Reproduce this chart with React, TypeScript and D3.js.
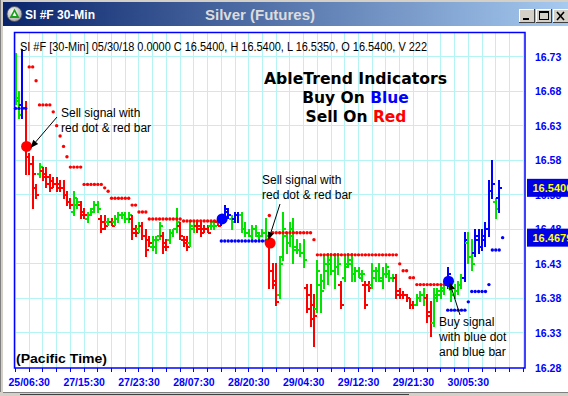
import React from 'react';
import * as d3 from 'd3';

// ---- data ----
const highs = [
  16.735,16.680,16.740,16.665,16.590,16.585,16.545,16.575,16.570,16.570,
  16.560,16.555,16.555,16.550,16.550,16.535,16.525,16.535,16.525,16.520,
  16.510,16.505,16.510,16.520,16.520,16.500,16.500,16.495,16.495,16.500,
  16.505,16.505,16.505,16.505,16.500,16.485,16.490,16.490,16.480,16.470,
  16.470,16.470,16.490,16.475,16.465,16.480,16.480,16.510,16.490,16.470,
  16.470,16.490,16.490,16.490,16.490,16.485,16.485,16.490,16.490,16.490,
  16.500,16.515,16.510,16.500,16.505,16.505,16.505,16.490,16.480,16.485,
  16.485,16.475,16.480,16.495,16.470,16.430,16.430,16.440,16.505,16.475,
  16.490,16.495,16.465,16.460,16.465,16.400,16.400,16.385,16.435,16.415,
  16.440,16.445,16.445,16.445,16.445,16.405,16.440,16.445,16.445,16.425,
  16.425,16.420,16.405,16.405,16.430,16.425,16.430,16.425,16.430,16.420,
  16.415,16.415,16.395,16.390,16.385,16.380,16.375,16.385,16.390,16.395,
  16.385,16.375,16.395,16.395,16.400,16.405,16.425,16.400,16.400,16.405,
  16.415,16.475,16.475,16.465,16.480,16.480,16.480,16.490,16.550,16.580,
  16.525,16.550,
];
const lows = [
  16.660,16.640,16.640,16.560,16.560,16.510,16.525,16.555,16.550,16.540,
  16.535,16.540,16.535,16.535,16.525,16.515,16.510,16.500,16.510,16.495,
  16.495,16.490,16.500,16.505,16.505,16.475,16.480,16.485,16.485,16.485,
  16.490,16.495,16.490,16.490,16.465,16.470,16.475,16.465,16.440,16.455,
  16.450,16.445,16.465,16.445,16.450,16.460,16.470,16.475,16.465,16.455,
  16.450,16.455,16.475,16.475,16.470,16.475,16.475,16.480,16.480,16.485,
  16.485,16.490,16.495,16.480,16.490,16.490,16.475,16.470,16.470,16.465,
  16.470,16.465,16.470,16.465,16.395,16.395,16.370,16.380,16.435,16.445,
  16.455,16.430,16.445,16.440,16.425,16.360,16.340,16.310,16.360,16.360,
  16.395,16.400,16.415,16.395,16.415,16.365,16.405,16.425,16.405,16.405,
  16.410,16.405,16.365,16.390,16.395,16.405,16.405,16.395,16.410,16.405,
  16.405,16.380,16.380,16.380,16.375,16.365,16.365,16.370,16.375,16.370,
  16.345,16.325,16.340,16.375,16.380,16.385,16.395,16.375,16.380,16.385,
  16.395,16.405,16.430,16.420,16.440,16.445,16.450,16.455,16.470,16.525,
  16.495,16.505,
];
const opens = [
  16.680,16.665,16.660,16.655,16.585,16.575,16.540,16.560,16.565,16.560,
  16.555,16.550,16.545,16.545,16.540,16.530,16.520,16.505,16.515,16.515,
  16.505,16.495,16.500,16.510,16.515,16.495,16.490,16.490,16.490,16.490,
  16.495,16.500,16.500,16.495,16.495,16.480,16.480,16.485,16.470,16.465,
  16.455,16.455,16.470,16.470,16.460,16.465,16.475,16.480,16.485,16.465,
  16.465,16.460,16.480,16.485,16.485,16.480,16.480,16.485,16.485,16.490,
  16.490,16.495,16.505,16.495,16.495,16.500,16.500,16.480,16.475,16.470,
  16.480,16.470,16.470,16.475,16.465,16.420,16.405,16.385,16.440,16.470,
  16.460,16.470,16.455,16.450,16.445,16.395,16.385,16.370,16.365,16.400,
  16.405,16.420,16.430,16.420,16.425,16.400,16.410,16.430,16.430,16.415,
  16.420,16.410,16.400,16.400,16.400,16.410,16.420,16.405,16.415,16.415,
  16.410,16.410,16.390,16.385,16.385,16.380,16.370,16.370,16.380,16.385,
  16.380,16.360,16.345,16.380,16.385,16.390,16.400,16.395,16.385,16.390,
  16.400,16.410,16.460,16.440,16.445,16.465,16.455,16.465,16.480,16.535,
  16.520,16.525,
];
const closes = [
  16.670,16.645,16.655,16.600,16.575,16.560,16.530,16.570,16.555,16.545,
  16.540,16.545,16.540,16.540,16.530,16.520,16.515,16.525,16.520,16.500,
  16.500,16.500,16.505,16.515,16.510,16.480,16.485,16.490,16.485,16.495,
  16.500,16.500,16.495,16.500,16.475,16.475,16.485,16.470,16.450,16.460,
  16.465,16.465,16.485,16.455,16.455,16.475,16.480,16.490,16.470,16.460,
  16.455,16.485,16.485,16.480,16.475,16.480,16.475,16.490,16.485,16.485,
  16.495,16.510,16.500,16.490,16.500,16.500,16.480,16.475,16.470,16.480,
  16.475,16.470,16.475,16.470,16.420,16.400,16.375,16.430,16.480,16.460,
  16.480,16.450,16.450,16.445,16.435,16.365,16.350,16.355,16.420,16.390,
  16.430,16.435,16.420,16.425,16.430,16.370,16.425,16.435,16.415,16.420,
  16.415,16.415,16.370,16.395,16.420,16.420,16.410,16.415,16.425,16.410,
  16.410,16.385,16.385,16.385,16.380,16.370,16.370,16.380,16.385,16.380,
  16.355,16.345,16.385,16.390,16.395,16.400,16.415,16.385,16.390,16.400,
  16.410,16.465,16.440,16.430,16.470,16.455,16.470,16.480,16.535,16.545,
  16.510,16.540,
];
// bar colour: g = neutral (green), r = down (red), b = up (blue)
const barTrend =
  'ggbrrrrgrr' + 'rrrrrrrggr' + 'rggggrrgrg' + 'ggggrrgrrr' + 'gggrrgggrr' +
  'rggrrrrggr' + 'bbbgbbgggg' + 'ggggrrrggg' + 'gggggrrrgg' + 'gggggrgggg' +
  'ggrrgggggg' + 'grrrrrrggg' + 'rrggggbggg' + 'gbggbbbbbbgb';

// AbleTrend stop dots (one per bar, plus the next-bar stop)
const stops = [
  16.655,16.655,16.655,16.655,16.715,16.715,16.695,16.660,16.660,16.660,
  16.660,16.650,16.630,16.615,16.600,16.585,16.570,16.570,16.570,16.570,
  16.545,16.545,16.545,16.545,16.545,16.545,16.540,16.535,16.525,16.525,
  16.525,16.525,16.525,16.525,16.515,16.515,16.505,16.505,16.505,16.495,
  16.495,16.495,16.495,16.495,16.495,16.495,16.495,16.495,16.495,16.492,
  16.492,16.492,16.492,16.492,16.492,16.492,16.492,16.492,16.492,16.492,
  16.463,16.463,16.463,16.463,16.463,16.463,16.463,16.463,16.463,16.463,
  16.463,16.463,16.463,16.463,16.500,16.475,16.475,16.475,16.475,16.475,
  16.475,16.475,16.475,16.475,16.475,16.475,16.475,16.465,16.443,16.443,
  16.443,16.443,16.443,16.443,16.443,16.443,16.443,16.443,16.443,16.443,
  16.443,16.443,16.443,16.443,16.443,16.443,16.443,16.443,16.443,16.443,
  16.443,16.443,16.430,16.420,16.420,16.410,16.410,16.400,16.400,16.400,
  16.400,16.400,16.400,16.400,16.400,16.400,16.363,16.363,16.363,16.363,
  16.363,16.363,16.375,16.390,16.390,16.390,16.390,16.390,16.400,16.450,
  16.450,16.450,16.4679,
];
const stopSide =
  'bbbb' + 'r'.repeat(56) + 'b'.repeat(14) + 'r'.repeat(52) + 'b'.repeat(17);

// big signal dots
const signalBars = [3, 60, 74, 126];
const signalPrices = [16.600, 16.495, 16.460, 16.405];
const signalSide = ['r', 'b', 'r', 'b'];

const priceTicks = [16.28, 16.33, 16.38, 16.43, 16.48, 16.53, 16.58, 16.63, 16.68, 16.73];
const timeLabels = ['25/06:30', '27/15:30', '27/23:30', '28/07:30', '28/20:30', '29/04:30', '29/12:30', '29/21:30', '30/05:30'];
const timeLabelBars = [4, 20, 36, 52, 68, 84, 100, 116, 132];
const lastPrice = 16.54;
const stopPrice = 16.4679;

const COL: Record<string, string> = { g: '#00e400', r: '#ff0000', b: '#0000ff' };
const SANS = 'Liberation Sans, Arial, sans-serif';

export default function App() {
  const W = 568, H = 396;
  const L = 14.5, T = 32.5, R = 525, B = 368;
  const x = d3.scaleLinear().domain([0, 141]).range([15.5, 499.2]);
  const y = d3.scaleLinear().domain([16.28, 16.73]).range([367.5, 56.55]);
  const gridIdx = d3.range(0, 150, 4).filter((i) => x(i) < R - 1);

  const arrow = (x1: number, y1: number, x2: number, y2: number, key: string) => {
    const a = Math.atan2(y2 - y1, x2 - x1);
    const len = 8, wid = 3.2;
    const bx = x2 - len * Math.cos(a), by = y2 - len * Math.sin(a);
    const p = [
      [x2, y2],
      [bx + wid * Math.sin(a), by - wid * Math.cos(a)],
      [bx - wid * Math.sin(a), by + wid * Math.cos(a)],
    ];
    return (
      <g key={key}>
        <line x1={x1} y1={y1} x2={bx} y2={by} stroke="#000" strokeWidth={1} />
        <polygon points={p.map((q) => q.join(',')).join(' ')} fill="#000" />
      </g>
    );
  };

  return (
    <svg width={W} height={H} style={{ position: 'absolute', left: 0, top: 0, display: 'block' }}
      fontFamily={SANS}>
      <defs>
        <linearGradient id="tbar" x1="0" x2="1" y1="0" y2="0">
          <stop offset="0" stopColor="#0a246a" />
          <stop offset="1" stopColor="#a6caf0" />
        </linearGradient>
        <radialGradient id="icon" cx="0.4" cy="0.35" r="0.7">
          <stop offset="0" stopColor="#ffffff" />
          <stop offset="1" stopColor="#a0a0a0" />
        </radialGradient>
        <clipPath id="plotclip"><rect x={L} y={T} width={R - L} height={B - T} /></clipPath>
      </defs>
      {/* window frame */}
      <rect x={0} y={0} width={W} height={H} fill="#ffffff" />
      <rect x={0} y={0} width={W} height={3} fill="#d4d0c8" />
      <rect x={0} y={0} width={3} height={H} fill="#d4d0c8" />
      <line x1={0.5} y1={0} x2={0.5} y2={H} stroke="#808080" />
      <rect x={0} y={392} width={W} height={4} fill="#d4d0c8" />
      <line x1={3} y1={392.5} x2={W} y2={392.5} stroke="#808080" />
      <line x1={20} y1={394.5} x2={409} y2={394.5} stroke="#404040" />

      {/* title bar */}
      <rect x={3} y={2} width={W - 3} height={24} fill="url(#tbar)" />
      <circle cx={14.5} cy={14} r={7.5} fill="url(#icon)" stroke="#505050" strokeWidth={0.8} />
      <polygon points="14.5,8.5 19.5,18 9.5,18" fill="#1aa01a" />
      <polygon points="14.5,12 16.5,16 12.5,16" fill="#ffffff" />
      <text x={25} y={19} fill="#ffffff" fontWeight="bold" fontSize={12}>SI #F 30-Min</text>
      <text x={260} y={19.5} fill="#dcdcdc" fontWeight="bold" fontSize={15} textAnchor="middle">Silver (Futures)</text>
      {[519, 536, 553].map((bx, k) => (
        <g key={'btn' + k}>
          <rect x={bx} y={9} width={16} height={14} fill="#d4d0c8" />
          <line x1={bx + 0.5} y1={9} x2={bx + 0.5} y2={23} stroke="#ffffff" />
          <line x1={bx} y1={9.5} x2={bx + 16} y2={9.5} stroke="#ffffff" />
          <line x1={bx + 15.5} y1={9} x2={bx + 15.5} y2={23} stroke="#404040" />
          <line x1={bx} y1={22.5} x2={bx + 16} y2={22.5} stroke="#404040" />
        </g>
      ))}
      <rect x={523} y={18} width={6} height={2} fill="#000" />
      <rect x={539.5} y={11.5} width={9} height={8} fill="none" stroke="#000" strokeWidth={1} />
      <rect x={539.5} y={11.5} width={9} height={1.5} fill="#000" />
      <path d="M557,12 L564,20 M564,12 L557,20" stroke="#000" strokeWidth={1.6} />

      {/* grid */}
      <g stroke="#b4f4f4" strokeWidth={1} shapeRendering="crispEdges">
        {priceTicks.filter((p) => p > 16.3).map((p) => (
          <line key={'h' + p} x1={L} x2={R} y1={y(p)} y2={y(p)} />
        ))}
        {gridIdx.map((i) => (
          <line key={'v' + i} x1={x(i)} x2={x(i)} y1={T} y2={B} />
        ))}
      </g>

      {/* OHLC bars */}
      <g clipPath="url(#plotclip)" shapeRendering="crispEdges">
        {highs.map((h, i) => {
          const c = COL[barTrend[i]];
          const cx = x(i);
          return (
            <g key={'b' + i} stroke={c} strokeWidth={2}>
              <line x1={cx} x2={cx} y1={y(h) - 0.5} y2={y(lows[i]) + 0.5} />
              <line x1={cx - 3} x2={cx} y1={y(opens[i])} y2={y(opens[i])} />
              <line x1={cx} x2={cx + 3} y1={y(closes[i])} y2={y(closes[i])} />
            </g>
          );
        })}
      </g>

      {/* stop dots */}
      <g>
        {stops.map((s, i) => (
          <circle key={'s' + i} cx={x(i)} cy={y(s)} r={1.7} fill={COL[stopSide[i]]} />
        ))}
      </g>

      {/* signal dots */}
      {signalBars.map((b, k) => (
        <circle key={'sig' + k} cx={x(b) + 0.8} cy={y(signalPrices[k])} r={5.5} fill={COL[signalSide[k]]} />
      ))}

      {/* plot border */}
      <rect x={L} y={T} width={R - L} height={B - T} fill="none" stroke="#0000ff" strokeWidth={1.5} />

      {/* bottom ticks & labels */}
      <g stroke="#0000ff" strokeWidth={1} shapeRendering="crispEdges">
        {gridIdx.map((i) => (
          <line key={'t' + i} x1={x(i)} x2={x(i)} y1={B} y2={B + 4} />
        ))}
      </g>
      {timeLabels.map((t, k) => (
        <text key={'tl' + k} x={x(timeLabelBars[k])} y={386} textAnchor="middle" fill="#0000ff"
          fontWeight="bold" fontSize={10.5}>{t}</text>
      ))}

      {/* price labels */}
      {priceTicks.map((p) => (
        <text key={'pl' + p} x={535} y={y(p) + 4} fill="#0000ff" fontWeight="bold" fontSize={10.5}>
          {p.toFixed(2)}
        </text>
      ))}
      {[lastPrice, stopPrice].map((p, k) => (
        <g key={'box' + k}>
          <rect x={527} y={y(p) - 9} width={41} height={18} fill="#0000e6" />
          <text x={532.5} y={y(p) + 4} fill="#ffff00" fontWeight="bold" fontSize={11}>{p.toFixed(4)}</text>
        </g>
      ))}

      {/* header text */}
      <text x={20} y={51} fontSize={12} fill="#000" textLength={407} lengthAdjust="spacingAndGlyphs">
        SI #F [30-Min] 05/30/18  0.0000 C 16.5400, H 16.5400, L 16.5350, O 16.5400, V 222
      </text>
      <g fontFamily="DejaVu Sans, Verdana, sans-serif" fontWeight="bold" fontSize={15.5} textAnchor="middle">
        <text x={355.5} y={83.5} fill="#000" textLength={183} lengthAdjust="spacingAndGlyphs">AbleTrend Indicators</text>
        <text x={355.5} y={102.5} fill="#000">Buy On <tspan fill="#0000ff">Blue</tspan></text>
        <text x={356} y={122} fill="#000">Sell On <tspan fill="#ff0000">Red</tspan></text>
      </g>

      {/* annotations */}
      <g fontSize={12} fill="#000">
        <text x={61} y={117}>Sell signal with</text>
        <text x={61} y={132}>red dot &amp; red bar</text>
        <text x={262} y={184}>Sell signal with</text>
        <text x={262} y={199}>red dot &amp; red bar</text>
        <text x={439} y={326}>Buy signal</text>
        <text x={439} y={341}>with blue dot</text>
        <text x={439} y={356}>and blue bar</text>
      </g>
      {arrow(57, 117, 30.5, 148, 'a1')}
      {arrow(280, 204, 268.5, 240, 'a2')}
      {arrow(460, 315, 449.5, 282, 'a3')}

      <text x={16} y={363} fontSize={13} fontWeight="bold" fill="#000" textLength={91} lengthAdjust="spacingAndGlyphs">
        (Pacific Time)
      </text>
    </svg>
  );
}
